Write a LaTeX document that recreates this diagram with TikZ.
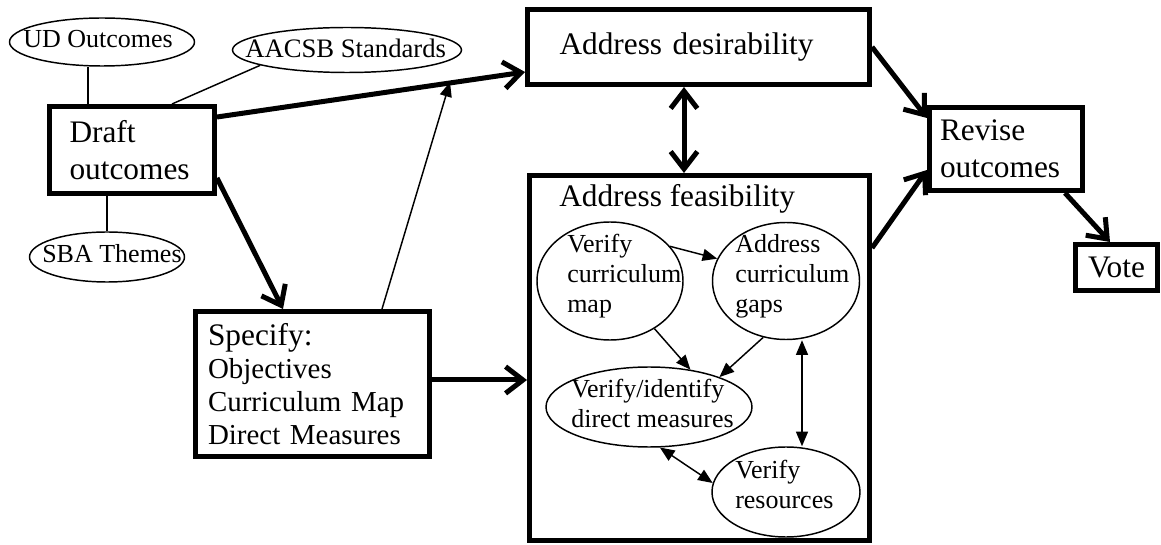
\documentclass[tikz,border=0pt]{standalone}
\usepackage{fontspec}
\setmainfont{Liberation Serif}
\usetikzlibrary{arrows.meta,shapes.geometric}

\begin{document}
\begin{tikzpicture}[x=0.75pt,y=-0.75pt,
    box/.style={draw=black, line width=3.75pt, rectangle, align=left, font=\fontsize{23.5}{27.75}\selectfont},
    oval/.style={draw=black, line width=1.1pt, ellipse, inner sep=0pt},
    ovaltext/.style={anchor=base west, inner sep=0pt, align=left, font=\fontsize{19.5}{22.5}\selectfont},
    plainline/.style={draw=black, line width=1.1pt},
    thinarrow/.style={plainline, -{Triangle[length=11pt,width=9pt]}},
    thinboth/.style={plainline, {Triangle[length=11pt,width=9pt]}-{Triangle[length=11pt,width=9pt]}},
    thickarrow/.style={draw=black, line width=3.75pt, -{Straight Barb[length=13pt,width=20pt]}},
    thickboth/.style={draw=black, line width=3.75pt, {Straight Barb[length=13pt,width=20pt]}-{Straight Barb[length=13pt,width=20pt]}}]
    \useasboundingbox (0,0) rectangle (1161,545);

    \node[oval, minimum width=138.75pt, minimum height=36pt] (ud) at (102,42) {};
    \node[ovaltext] (udtext) at (23,48) {UD Outcomes};
    \node[oval, minimum width=171.75pt, minimum height=33.75pt] (aacsb) at (347,50) {};
    \node[ovaltext, font=\fontsize{20}{22.5}\selectfont] (aacsbtext) at (245,58) {AACSB Standards};
    \node[oval, minimum width=116.25pt, minimum height=37.5pt] (sba) at (107,257) {};
    \node[ovaltext] (sbatext) at (42,263) {SBA Themes};

    \node[box, minimum width=123.75pt, minimum height=65.25pt, inner xsep=15pt, text width=93.75pt] (draft) at (132,150) {Draft\\outcomes};
    \node[box, minimum width=256.5pt, minimum height=56.25pt, inner xsep=24pt, text width=208.5pt] (desir) at (698.5,47) {Address desirability};
    \node[box, minimum width=175.5pt, minimum height=108.75pt, inner xsep=9.4pt, text width=156.7pt,
        font=\fontsize{21.7}{24.75}\selectfont] (specify) at (312.5,384)
        {{\fontsize{23.5}{24.75}\selectfont Specify:}\\Objectives\\Curriculum Map\\Direct Measures};
    \node[box, minimum width=255pt, minimum height=273.75pt] (feas) at (699.5,358) {};
    \node[anchor=base west, inner sep=0pt, font=\fontsize{23.5}{27.75}\selectfont] (feastitle) at (559,207) {Address feasibility};
    \node[box, minimum width=114.75pt, minimum height=62.25pt, inner xsep=7.8pt, text width=99pt] (revise) at (1006,149) {Revise\\outcomes};
    \node[box, minimum width=61.5pt, minimum height=34.5pt] (vote) at (1116.5,267.5) {Vote};

    \node[oval, minimum width=109.5pt, minimum height=88.5pt] (map) at (610,281) {};
    \node[ovaltext] (maptext) at (567,313) {Verify\\curriculum\\map};
    \node[oval, minimum width=110.25pt, minimum height=87.75pt] (gaps) at (786,281) {};
    \node[ovaltext] (gapstext) at (735,313) {Address\\curriculum\\gaps};
    \node[oval, minimum width=154.5pt, minimum height=60pt] (measures) at (649,407) {};
    \node[ovaltext] (measurestext) at (571,427) {Verify/identify\\direct measures};
    \node[oval, minimum width=111pt, minimum height=67.5pt] (resources) at (786,492) {};
    \node[ovaltext] (resourcestext) at (735,508) {Verify\\resources};

    \draw[plainline] (ud.south -| 88,0) -- (draft.north -| 88,0);
    \draw[plainline] (draft.north -| 172,0) -- (aacsb.190);
    \draw[plainline] (draft.south -| sba) -- (sba.north);

    \draw[thickarrow] (draft.east |- 0,117) -- (desir.west |- 0,72);
    \draw[thickarrow] (draft.east |- 0,178) -- (specify.north -| 283,0);
    \coordinate (meet) at (450,82);
    \draw[thinarrow] (specify.north -| 382,0) -- (meet);
    \draw[thickboth] (desir.south -| 684,0) -- (feas.north -| 684,0);
    \draw[thickarrow] (specify.east |- 0,380) -- (feas.west |- 0,380);
    \draw[thickarrow] (desir.east) -- (revise.west |- 0,118);
    \draw[thickarrow] (feas.east |- 0,248) -- (revise.west |- 0,170);
    \draw[thickarrow] (revise.south -| 1065,0) -- (vote.north -| 1110,0);

    \draw[thinarrow] (map.30) -- (gaps.162);
    \draw[thinarrow] (map.313) -- (measures.42);
    \draw[thinarrow] (gaps.248) -- (measures.23);
    \draw[thinboth] (gaps.south -| 802,0) -- (resources.north -| 802,0);
    \draw[thinboth] (measures.285) -- (resources.173);
\end{tikzpicture}
\end{document}
